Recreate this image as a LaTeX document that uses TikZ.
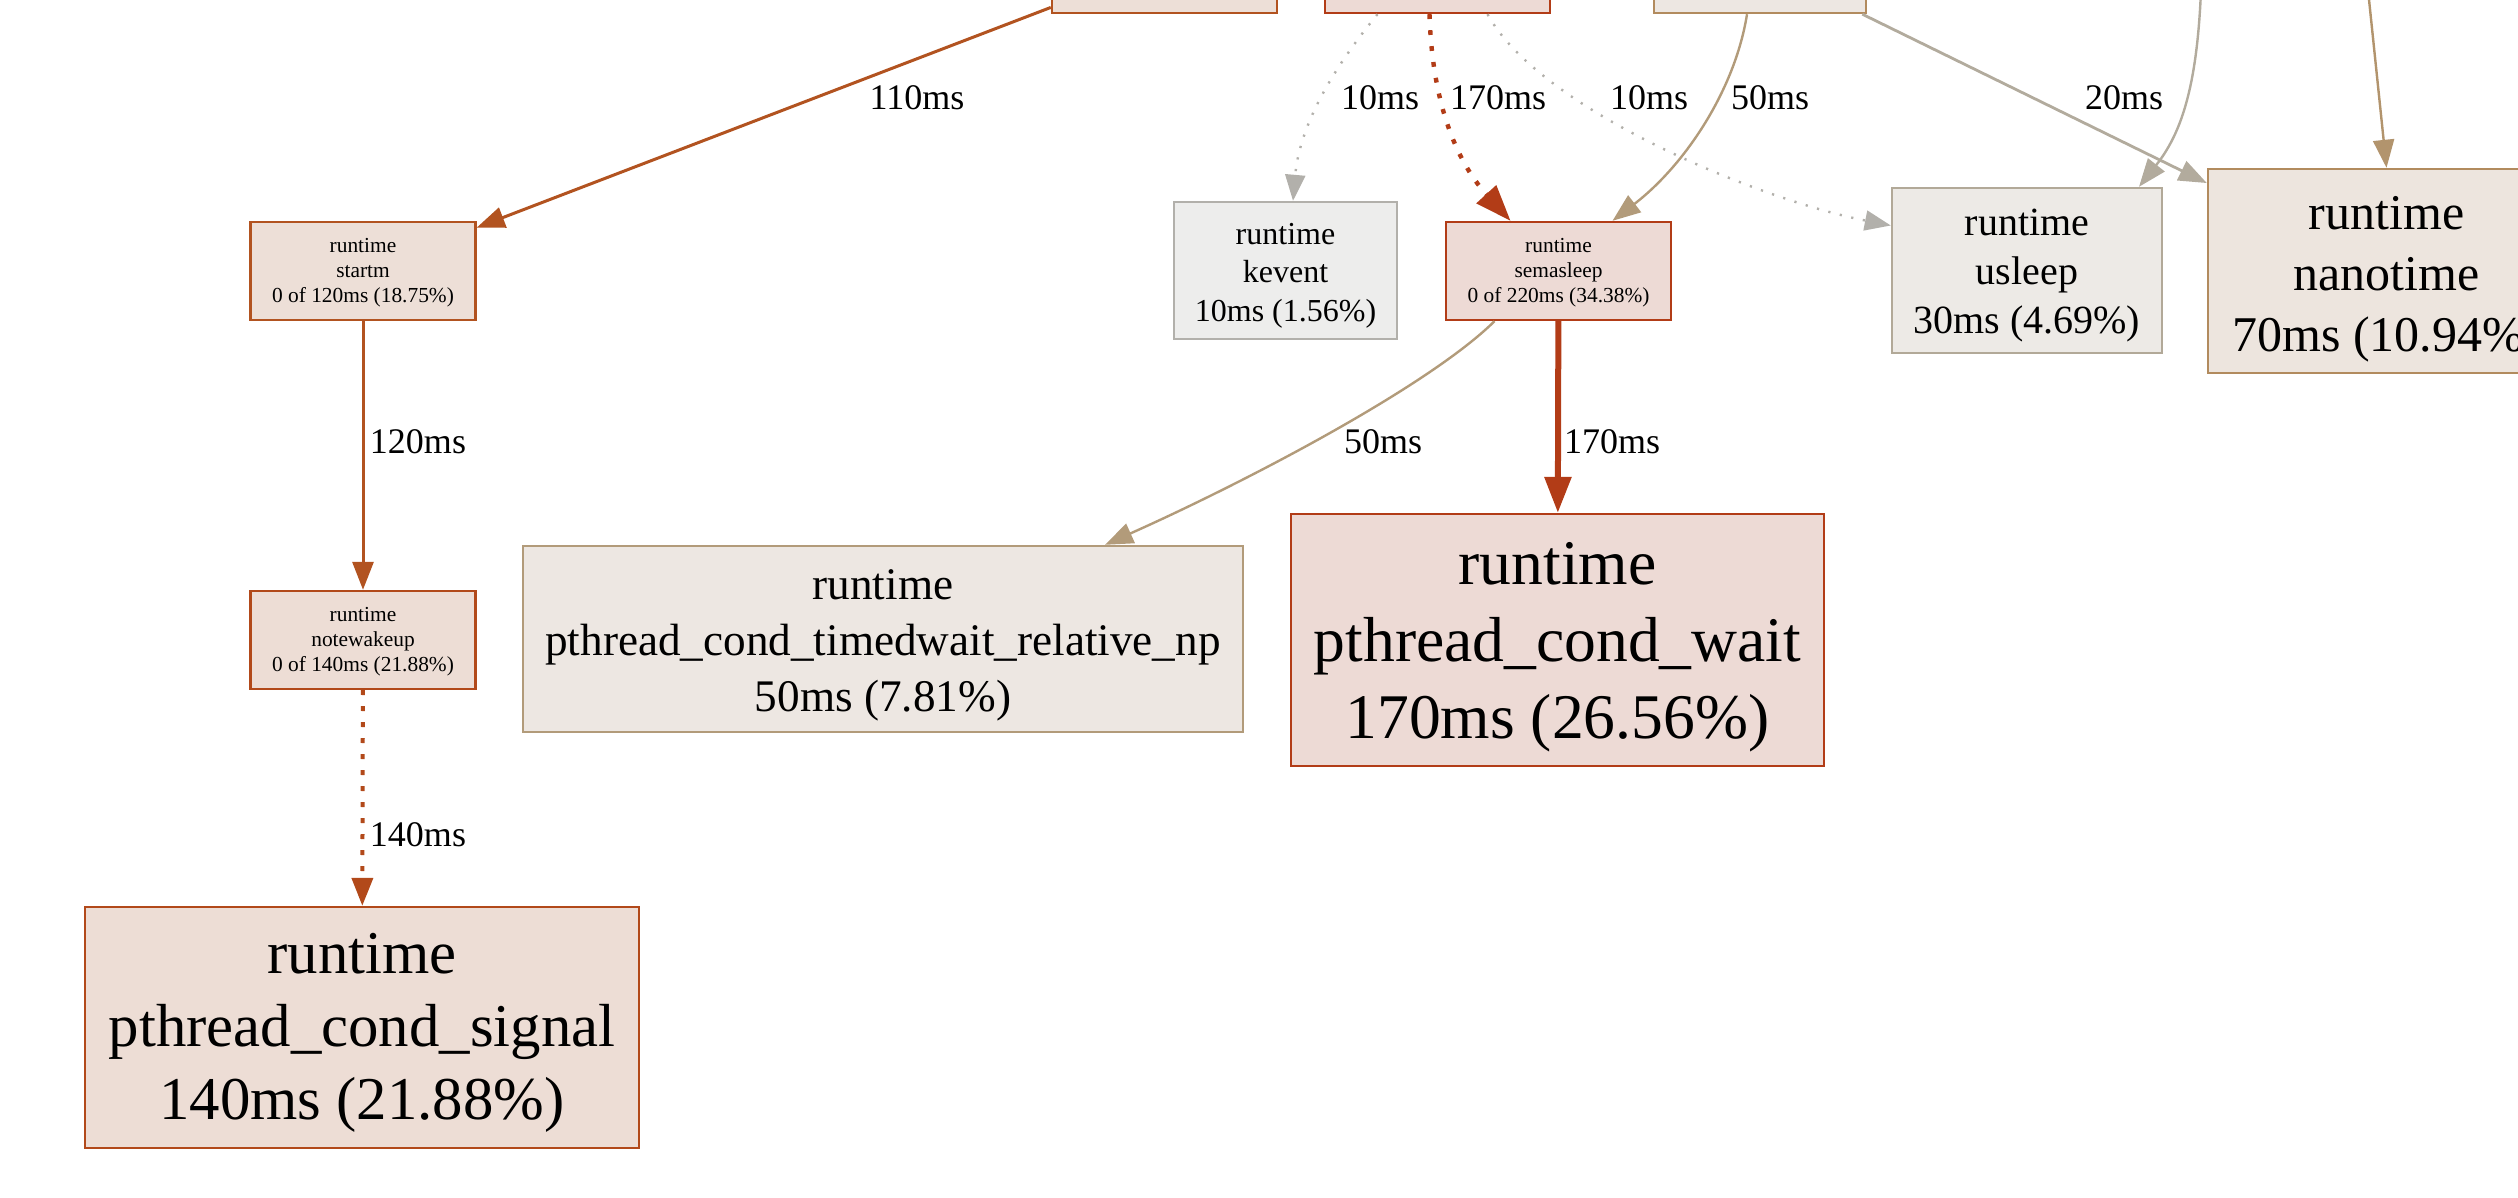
\documentclass[tikz,border=0pt]{standalone}
\usepackage{fontspec}
\setmainfont{Liberation Serif}
\usetikzlibrary{arrows.meta}
\definecolor{cRedB}{HTML}{B23C17}
\definecolor{cRedF}{HTML}{EDDAD5}
\definecolor{cOrB}{HTML}{B2491A}
\definecolor{cOrF}{HTML}{EDDDD5}
\definecolor{cStB}{HTML}{B25320}
\definecolor{cStF}{HTML}{EDDFD7}
\definecolor{cGrB}{HTML}{B2B0AB}
\definecolor{cGrF}{HTML}{EDEDEC}
\definecolor{cUsB}{HTML}{B2A998}
\definecolor{cUsF}{HTML}{EDEAE6}
\definecolor{cNaB}{HTML}{B28B5E}
\definecolor{cNaF}{HTML}{EDE5DE}
\definecolor{cTwB}{HTML}{B29B7A}
\definecolor{cTwF}{HTML}{EDE7E2}
\definecolor{cGtB}{HTML}{B2AB9D}
\definecolor{cTnB}{HTML}{B2946D}
\newcommand\tpad[1]{\rule{0pt}{#1em}}
\tikzset{
  box/.style={draw, rectangle, line width=1.2pt, inner sep=0pt, align=center},
  smallbox/.style={box, minimum width=112.5pt, minimum height=49pt, font=\fontsize{10.7}{12.5}\selectfont},
  lbl/.style={font=\fontsize{18}{21}\selectfont, inner sep=0pt},
  tipn/.style={-{Triangle[length=14pt,width=10.5pt]}},
  tips/.style={-{Triangle[length=13pt,width=10pt]}},
  tipb/.style={-{Triangle[length=18pt,width=13pt]}},
  dotg/.style={dash pattern=on 1.1pt off 4.8pt},
  dotr/.style={dash pattern=on 2.4pt off 5.6pt},
}
\begin{document}
\begin{tikzpicture}[x=0.5pt,y=-0.5pt]
\useasboundingbox (0,0) rectangle (2518,1198);
\clip (0,0) rectangle (2518,1198);
% partial boxes at the top
\node[smallbox, draw=cStB, fill=cStF] (T1) at (1164.5,-36) {};
\node[smallbox, draw=cRedB, fill=cRedF] (T2) at (1437.5,-36) {};
\node[smallbox, draw=cNaB, fill=cTwF, minimum width=106pt] (T3) at (1760,-36) {};
\coordinate (U0) at (2201,-10);
\coordinate (N0) at (2368,-10);
% nodes
\node[smallbox, draw=cStB, fill=cStF] (startm) at (363,271) {\tpad{0.83}runtime\\startm\\0 of 120ms (18.75\%)};
\node[smallbox, draw=cOrB, fill=cOrF] (notewakeup) at (363,640) {\tpad{0.83}runtime\\notewakeup\\0 of 140ms (21.88\%)};
\node[box, draw=cOrB, fill=cOrF, minimum width=277pt, minimum height=120.5pt, font=\fontsize{30.4}{36.5}\selectfont] (signal) at (362,1027.5) {\tpad{0.84}runtime\\pthread\_cond\_signal\\140ms (21.88\%)};
\node[box, draw=cGrB, fill=cGrF, minimum width=111.5pt, minimum height=68.5pt, font=\fontsize{16}{19.3}\selectfont] (kevent) at (1285.5,270.5) {\tpad{0.98}runtime\\kevent\\10ms (1.56\%)};
\node[smallbox, draw=cRedB, fill=cRedF] (semasleep) at (1558.5,271) {\tpad{0.83}runtime\\semasleep\\0 of 220ms (34.38\%)};
\node[box, draw=cUsB, fill=cUsF, minimum width=135pt, minimum height=82.5pt, font=\fontsize{20}{24.5}\selectfont] (usleep) at (2027,270.5) {\tpad{0.92}runtime\\usleep\\30ms (4.69\%)};
\node[box, draw=cNaB, fill=cNaF, minimum width=178.5pt, minimum height=102pt, font=\fontsize{25}{30.5}\selectfont] (nanotime) at (2386.5,271) {\tpad{1.0}runtime\\nanotime\\70ms (10.94\%)};
\node[box, draw=cTwB, fill=cTwF, minimum width=360pt, minimum height=93pt, font=\fontsize{22.6}{28}\selectfont] (timedwait) at (883,639) {\tpad{0.96}runtime\\pthread\_cond\_timedwait\_relative\_np\\50ms (7.81\%)};
\node[box, draw=cRedB, fill=cRedF, minimum width=266.5pt, minimum height=126pt, font=\fontsize{31.8}{38.5}\selectfont] (condwait) at (1557.5,640) {\tpad{0.88}runtime\\pthread\_cond\_wait\\170ms (26.56\%)};
% edges
\draw[tipn, cStB, line width=1.5pt] (T1) -- (startm);
\draw[tipn, cStB, line width=1.5pt] (startm) -- (notewakeup);
\draw[tipn, cOrB, line width=2pt, dotr] (notewakeup) -- (signal);
\draw[tips, cGrB, line width=1.2pt, dotg] ([xshift=-30pt]T2.south) .. controls (1340,60) and (1300,120) .. ([xshift=3.75pt]kevent.north);
\draw[tipb, cRedB, line width=2.2pt, dotr] ([xshift=-4pt]T2.south) .. controls (1432,100) and (1455,160) .. ([xshift=-24pt]semasleep.north);
\draw[tips, cGrB, line width=1.2pt, dotg] ([xshift=25pt]T2.south) .. controls (1540,110) and (1760,200) .. ([yshift=22.5pt]usleep.west);
\draw[tipn, cTwB, line width=1.2pt] ([xshift=-6.5pt]T3.south) .. controls (1735,90) and (1685,165) .. ([xshift=27pt]semasleep.north);
\draw[tipn, cGtB, line width=1.4pt] (T3) -- (nanotime);
\draw[tipn, cGtB, line width=1.2pt] (U0) .. controls (2197,90) and (2180,135) .. ([xshift=56pt]usleep.north);
\draw[tipn, cTnB, line width=1.2pt] (N0) -- (nanotime.north);
\draw[tipn, cTwB, line width=1.2pt] ([xshift=-32pt]semasleep.south) .. controls (1430,385) and (1250,480) .. ([xshift=111pt]timedwait.north);
\draw[tipb, cRedB, line width=3pt] (semasleep) -- (condwait);
% labels
\node[lbl] (l110) at (917,98) {110ms};
\node[lbl] (l10a) at (1380,98) {10ms};
\node[lbl] (l170a) at (1498,98) {170ms};
\node[lbl] (l10b) at (1649,98) {10ms};
\node[lbl] (l50a) at (1770,98) {50ms};
\node[lbl] (l20) at (2124,98) {20ms};
\node[lbl] (l120) at (418,442) {120ms};
\node[lbl] (l140) at (418,835) {140ms};
\node[lbl] (l50b) at (1383,442) {50ms};
\node[lbl] (l170b) at (1612,442) {170ms};
\end{tikzpicture}
\end{document}
